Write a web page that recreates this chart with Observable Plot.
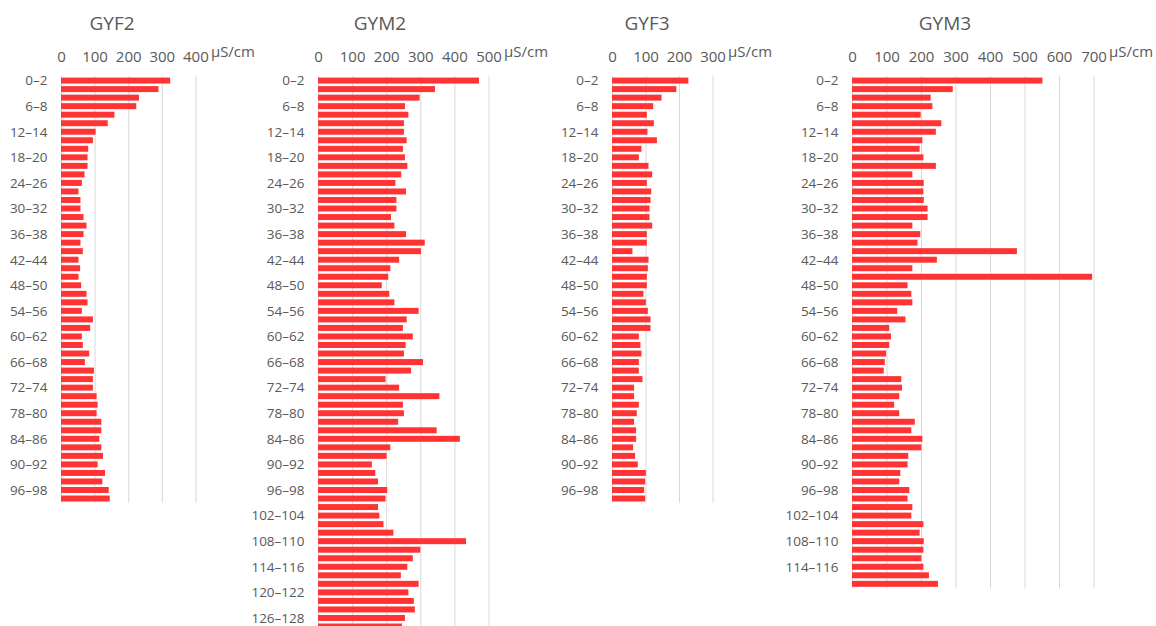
<!DOCTYPE html>
<html>
<head>
<meta charset="utf-8">
<script src="https://cdn.jsdelivr.net/npm/d3@7"></script>
<script src="https://cdn.jsdelivr.net/npm/@observablehq/plot@0.6"></script>
<style>
  html, body { margin: 0; padding: 0; background: #fff; overflow: hidden; }
  #chart { position: relative; width: 1156px; height: 626px; overflow: hidden; background: #fff;
           font-family: "Open Sans", sans-serif; color: #595959; }
  .title { position: absolute; top: 10px; font-size: 19px; color: #595959; transform: translateX(-50%); white-space: nowrap; }
  .panel { position: absolute; top: 0; }
</style>
</head>
<body>
<div id="chart"></div>
<script>
// Depth intervals (cm), 2 cm steps
const depths = [
  "0–2","2–4","4–6","6–8","8–10","10–12","12–14","14–16","16–18","18–20",
  "20–22","22–24","24–26","26–28","28–30","30–32","32–34","34–36","36–38","38–40",
  "40–42","42–44","44–46","46–48","48–50","50–52","52–54","54–56","56–58","58–60",
  "60–62","62–64","64–66","66–68","68–70","70–72","72–74","74–76","76–78","78–80",
  "80–82","82–84","84–86","86–88","88–90","90–92","92–94","94–96","96–98","98–100",
  "100–102","102–104","104–106","106–108","108–110","110–112","112–114","114–116","116–118","118–120",
  "120–122","122–124","124–126","126–128","128–130"
];

// Electrical conductivity per depth interval (μS/cm)
const gyf2 = [325,290,232,224,159,139,103,95,81,79,
              79,70,62,52,58,58,67,76,67,58,
              65,52,57,52,60,76,79,62,95,87,
              62,65,84,71,98,95,95,106,109,106,
              120,120,114,120,125,109,131,123,142,145];
const gym2 = [472,343,298,255,265,252,252,260,249,255,
              262,244,227,258,230,230,214,224,258,313,
              302,238,212,206,187,209,224,295,260,249,
              278,257,252,308,273,198,238,356,249,252,
              235,348,416,212,201,158,168,176,203,198,
              176,180,192,221,434,300,278,262,243,295,
              265,281,284,255,246];
const gyf3 = [228,192,148,123,104,125,106,134,88,80,
              109,120,104,117,115,112,112,120,104,104,
              61,109,107,104,104,94,101,107,115,115,
              80,85,88,80,80,91,66,66,80,74,
              66,72,72,63,69,77,101,99,96,99];
const gym3 = [552,292,228,233,199,259,243,204,196,207,
              243,175,208,207,208,219,219,175,198,190,
              478,246,175,696,161,172,175,131,155,108,
              113,108,99,95,92,143,145,137,122,137,
              182,172,204,201,163,161,140,137,166,161,
              175,172,207,196,208,207,201,207,223,249];

// Axis tick values
const gyf2Ticks = [0,100,200,300,400];
const gym2Ticks = [0,100,200,300,400,500];
const gyf3Ticks = [0,100,200,300];
const gym3Ticks = [0,100,200,300,400,500,600,700];

const unit = "μS/cm";
const barColor = "#ff3333";
const gridColor = "#d9d9d9";
const textColor = "#595959";

const chart = document.getElementById("chart");

function panel({name, values, ticks, zeroX, px100, titleX}) {
  const n = values.length;
  const step = 8.53;
  const mL = 80, mR = 70, mT = 76.3, mB = 10;
  const max = ticks[ticks.length - 1];
  const plotW = max / 100 * px100;
  const cats = depths.slice(0, n);
  const rows = values.map((v, i) => ({depth: cats[i], value: v}));

  const svg = Plot.plot({
    width: mL + plotW + mR,
    height: mT + n * step + mB,
    marginLeft: mL, marginRight: mR, marginTop: mT, marginBottom: mB,
    style: {background: "transparent", fontFamily: "'Open Sans', sans-serif", color: textColor, overflow: "visible"},
    x: {domain: [0, max], round: false},
    y: {domain: cats, paddingInner: 0.3, paddingOuter: 0.15, round: false},
    marks: [
      Plot.gridX(ticks, {stroke: gridColor, strokeOpacity: 1}),
      Plot.barX(rows, {x: "value", y: "depth", fill: barColor}),
      Plot.axisX(ticks, {anchor: "top", tickSize: 0, tickPadding: 15, label: null, fontSize: 15, fill: textColor}),
      Plot.axisY(cats.filter((d, i) => i % 3 === 0), {tickSize: 0, tickPadding: 14, label: null, fontSize: 13.5, fill: textColor}),
      Plot.text([unit], {x: () => max, frameAnchor: "top", dx: 15, dy: -30, textAnchor: "start", fontSize: 15, fill: textColor})
    ]
  });
  svg.classList.add("panel");
  svg.style.left = (zeroX - mL) + "px";
  chart.appendChild(svg);

  const t = document.createElement("div");
  t.className = "title";
  t.style.left = titleX + "px";
  t.textContent = name;
  chart.appendChild(t);
}

panel({name: "GYF2", values: gyf2, ticks: gyf2Ticks, zeroX: 61,    px100: 33.6, titleX: 112});
panel({name: "GYM2", values: gym2, ticks: gym2Ticks, zeroX: 317.7, px100: 34.1, titleX: 380});
panel({name: "GYF3", values: gyf3, ticks: gyf3Ticks, zeroX: 612.3, px100: 33.5, titleX: 647});
panel({name: "GYM3", values: gym3, ticks: gym3Ticks, zeroX: 851.7, px100: 34.5, titleX: 945});
</script>
</body>
</html>
